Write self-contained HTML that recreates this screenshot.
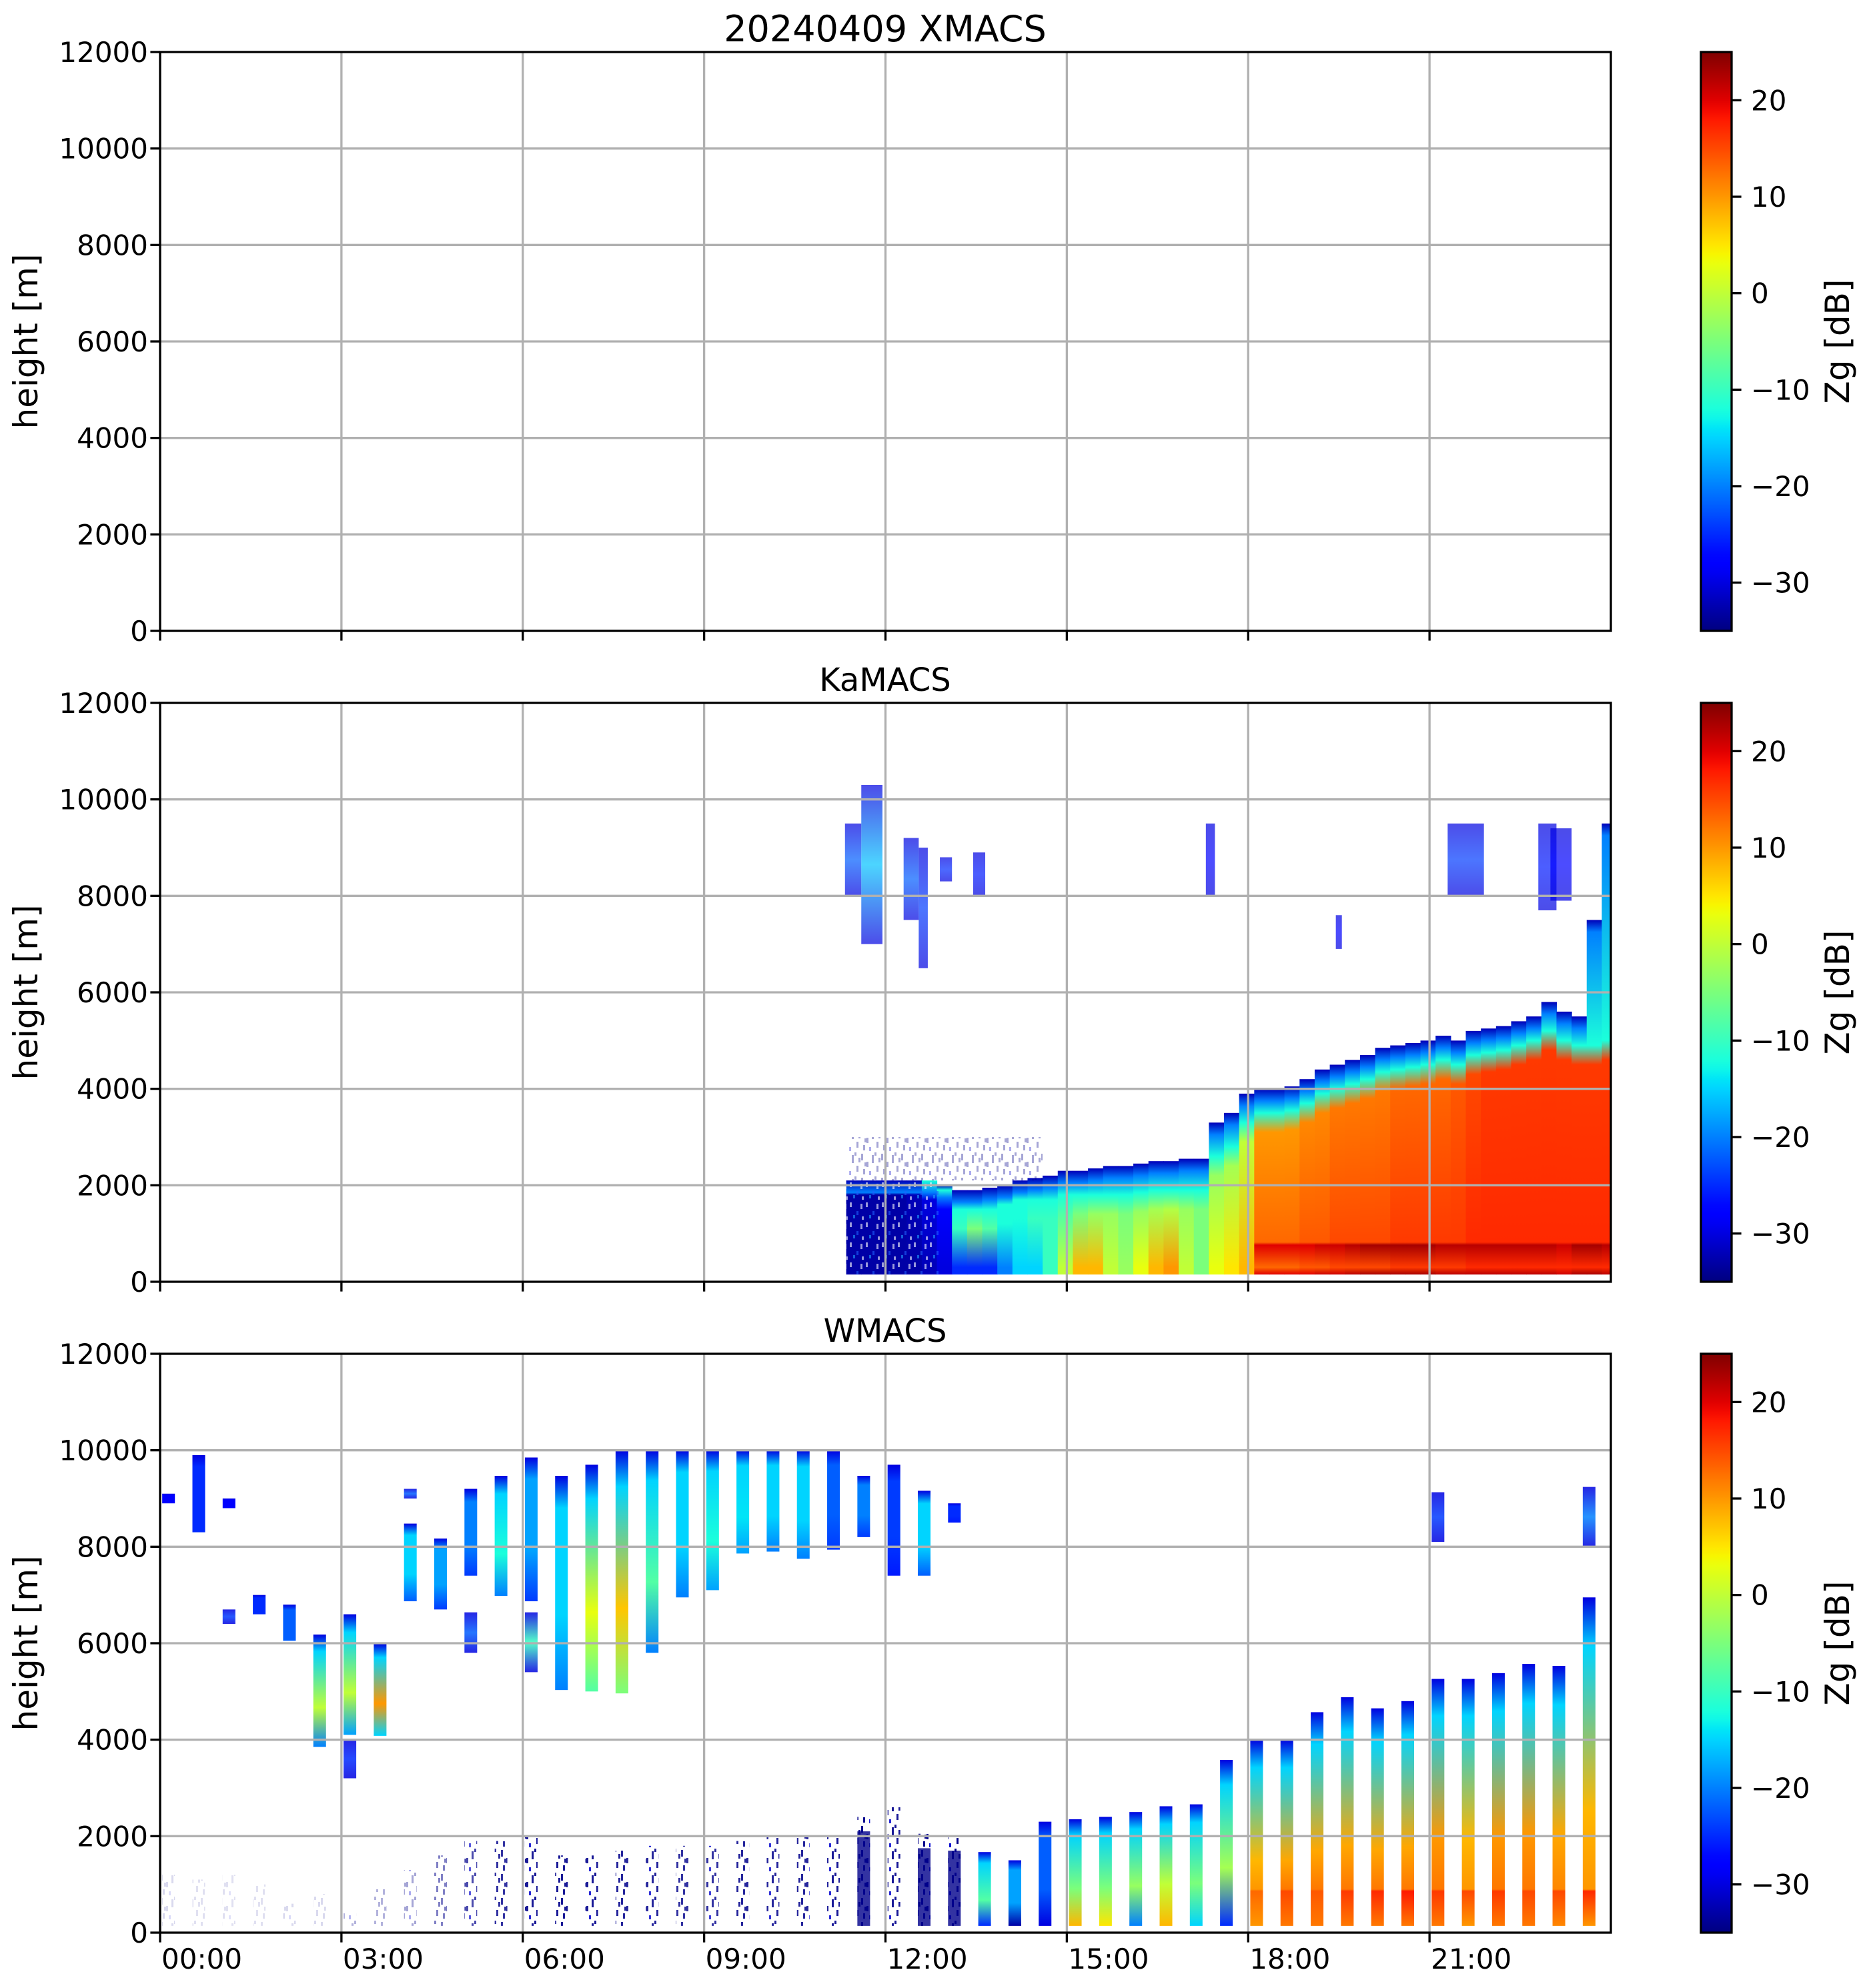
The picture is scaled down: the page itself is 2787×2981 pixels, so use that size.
<!DOCTYPE html>
<html><head><meta charset="utf-8"><title>20240409 radar</title>
<style>html,body{margin:0;padding:0;background:#fff}svg{display:block}text{font-family:"DejaVu Sans","Liberation Sans",sans-serif;fill:#000}</style>
</head><body>
<svg id="fig" width="2787" height="2981" viewBox="0 0 2787 2981" xmlns="http://www.w3.org/2000/svg">
<defs>
<pattern id="speck" width="30" height="36" patternUnits="userSpaceOnUse">
<rect x="1" y="2" width="3" height="10" fill="#00008b"/><rect x="9" y="14" width="3" height="8" fill="#00008b"/><rect x="17" y="4" width="3" height="12" fill="#00008b"/><rect x="24" y="20" width="3" height="9" fill="#00008b"/><rect x="4" y="25" width="3" height="8" fill="#00008b"/><rect x="13" y="28" width="3" height="6" fill="#1010d0"/><rect x="21" y="0" width="3" height="5" fill="#00008b"/><rect x="27" y="8" width="3" height="7" fill="#00008b"/><rect x="6" y="15" width="3" height="6" fill="#00008b"/>
</pattern>
<pattern id="speck2" width="24" height="30" patternUnits="userSpaceOnUse">
<rect x="2" y="3" width="3" height="7" fill="#ffffff"/><rect x="12" y="16" width="3" height="6" fill="#2060ff"/><rect x="18" y="5" width="3" height="8" fill="#ffffff"/><rect x="7" y="22" width="3" height="5" fill="#20a0ff"/><rect x="20" y="24" width="3" height="5" fill="#ffffff"/>
</pattern>
<linearGradient id="cbgrad" x1="0" y1="1" x2="0" y2="0"></linearGradient>
</defs>
<text x="1327" y="62" font-size="54" text-anchor="middle">20240409 XMACS</text>
<text x="1327" y="1036" font-size="48" text-anchor="middle">KaMACS</text>
<text x="1327" y="2012" font-size="48" text-anchor="middle">WMACS</text>
<g id="layers"></g>
</svg>
<script>
// ---- axes data ----
const yTicks = [0,2000,4000,6000,8000,10000,12000];
const xTickHours = [0,3,6,9,12,15,18,21];
const xTickLabels = ["00:00","03:00","06:00","09:00","12:00","15:00","18:00","21:00"];
const cbTicks = [-30,-20,-10,0,10,20];
const cbLabels = ["\u221230","\u221220","\u221210","0","10","20"];
const vmin = -35, vmax = 25;

// ---- KaMACS data (bins of 0.25 h starting 11.35 h) ----
const kaStart = 11.35;
const kaTop  = [2100,2100,2100,2100,2100,2100,2000,1900,1900,1950,2000,2100,2150,2200,2300,2300,2350,2400,2400,2450,2500,2500,2550,2550,3300,3500,3900,4000,4000,4050,4200,4400,4500,4600,4700,4850,4900,4950,5000,5100,5000,5200,5250,5300,5400,5500,5800,5600,5500,7500,9500];
const kaCore = [1800,1800,1800,1800,1800,1700,1500,1100,1100,1100,1200,1300,1300,1300,1400,1400,1400,1400,1400,1450,1500,1500,1500,1500,2200,2400,2900,3100,3100,3150,3300,3500,3600,3700,3800,3950,4000,4050,4100,4200,4100,4300,4350,4400,4500,4600,4800,4600,4500,4500,4600];
const kaMid  = [-33,-33,-33,-33,-32,-30,-28,-10,-5,-8,-12,-12,-10,-10,-8,-5,-3,-3,-5,-3,-2,-1,-3,-5,-3,-2,0,10,10,10,11,11,12,12,12,12,13,13,13,13,14,15,16,16,16,16,16,16,16,16,16];
const kaSfc  = [-33,-33,-33,-33,-33,-32,-30,-25,-25,-25,-20,-15,-15,-10,0,8,8,0,-3,3,8,10,0,-5,3,5,8,13,13,13,14,14,15,15,15,15,16,16,16,16,16,17,17,17,17,17,17,17,17,17,17];
const kaBB   = [null,null,null,null,null,null,null,null,null,null,null,null,null,null,null,null,null,null,null,null,null,null,null,null,null,null,null,20,20,20,20,21,21,22,23,23,23,23,23,22,22,22,22,22,22,22,22,21,23,23,22];
// upper Ka patches: start h, end h, bottom m, top m, dB
const kaPatchT0 = [11.33,11.6,12.3,12.55,12.9,13.45,21.3,22.8,19.45,17.3,23.0];
const kaPatchT1 = [11.6,11.95,12.55,12.7,13.1,13.65,21.9,23.1,19.55,17.45,23.35];
const kaPatchB  = [8000,7000,7500,6500,8300,8000,8000,7700,6900,8000,7900];
const kaPatchT  = [9500,10300,9200,9000,8800,8900,9500,9500,7600,9500,9400];
const kaPatchV  = [-22,-16,-22,-24,-25,-26,-24,-26,-28,-28,-28];

// ---- WMACS data (strips every 0.5 h) ----
const wTimes = [0.14,0.64,1.14,1.64,2.14,2.64,3.14,3.64,4.14,4.64,5.14,5.64,6.14,6.64,7.14,7.64,8.14,8.64,9.14,9.64,10.14,10.64,11.14,11.64,12.14,12.64,13.14,13.64,14.14,14.64,15.14,15.64,16.14,16.64,17.14,17.64,18.14,18.64,19.14,19.64,20.14,20.64,21.14,21.64,22.14,22.64,23.14,23.64];
const wBase = [8900,8300,8800,6600,6050,3850,4100,4080,6870,6700,7400,6980,6870,5030,5000,4960,5800,6950,7100,7860,7900,7750,7940,8200,7400,7400,8500,140,140,140,140,140,140,140,140,140,140,140,140,140,140,140,140,140,140,140,140,140];
const wTop  = [9100,9900,9000,7000,6800,6180,6600,5990,8480,8170,9200,9470,9850,9470,9700,10000,10000,10000,10000,10000,10000,10000,10000,9470,9700,9160,8900,1670,1500,2300,2350,2400,2500,2620,2660,3580,4000,4000,4570,4880,4650,4800,5260,5260,5380,5570,5530,6950];
const wCore = [-28,-25,-28,-25,-22,0,0,10,-15,-18,-20,-12,-18,-15,3,7,-8,-15,-12,-14,-15,-15,-22,-20,-24,-15,-25,-8,-18,-22,-5,-5,-3,0,-5,-2,8,9,9,9,9,9,10,8,10,10,9,8];
const wSfc  = [-28,-25,-28,-25,-22,-20,-18,-15,-22,-24,-24,-20,-24,-20,-8,-5,-20,-20,-18,-18,-20,-20,-24,-24,-26,-22,-26,-25,-33,-30,8,5,-20,8,-15,-25,10,12,12,12,12,12,12,10,12,12,11,10];
const wBB   = [null,null,null,null,null,null,null,null,null,null,null,null,null,null,null,null,null,null,null,null,null,null,null,null,null,null,null,null,null,null,null,null,null,null,null,null,13,15,14,16,17,18,16,15,16,15,15,17];
const wBase2 = [null,null,6400,null,null,null,3200,null,9000,null,5800,null,5400,null,null,null,null,null,null,null,null,null,null,null,null,null,null,null,null,null,null,null,null,null,null,null,null,null,null,null,null,null,8100,null,null,null,null,8000];
const wTop2  = [null,null,6700,null,null,null,4000,null,9200,null,6640,null,6640,null,null,null,null,null,null,null,null,null,null,null,null,null,null,null,null,null,null,null,null,null,null,null,null,null,null,null,null,null,9130,null,null,null,null,9240];
const wCore2 = [null,null,-24,null,null,null,-25,null,-22,null,-22,null,-10,null,null,null,null,null,null,null,null,null,null,null,null,null,null,null,null,null,null,null,null,null,null,null,null,null,null,null,null,null,-24,null,null,null,null,-20];
const wClutTop  = [1200,1100,1200,1000,600,800,400,900,1300,1600,1900,1900,2000,1600,1600,1700,1800,1800,1800,1900,2000,2000,2000,2400,2600,2050,2000,0,0,0,0,0,0,0,0,0,0,0,0,0,0,0,0,0,0,0,0,0];
const wClutDens = [0.15,0.12,0.12,0.12,0.15,0.15,0.3,0.3,0.35,0.5,0.7,0.8,0.9,0.9,0.9,0.85,0.85,0.8,0.8,0.85,0.85,0.85,0.9,0.95,0.9,1,1,0,0,0,0,0,0,0,0,0,0,0,0,0,0,0,0,0,0,0,0,0];

// ---- geometry ----
const NS = "http://www.w3.org/2000/svg";
const X0 = 240, X1 = 2415;
const panels = [{top:78,bot:946,name:"xmacs"},{top:1054,bot:1922,name:"kamacs"},{top:2030,bot:2898,name:"wmacs"}];
const CB0 = 2550, CB1 = 2596;
function xPix(h){ return X0 + h*(X1-X0)/24; }
function yPix(p, m){ return p.bot - m*(p.bot-p.top)/12000; }
function cbY(p, v){ return p.bot - (v-vmin)/(vmax-vmin)*(p.bot-p.top); }
function interp(pts, x){ for(let i=1;i<pts.length;i++){ if(x<=pts[i][0]){ const a=pts[i-1],b=pts[i]; return a[1]+(b[1]-a[1])*(x-a[0])/(b[0]-a[0]); } } return pts[pts.length-1][1]; }
function jet(v){
  let x=(v-vmin)/(vmax-vmin); x=Math.max(0,Math.min(1,x));
  const r=interp([[0,0],[0.35,0],[0.66,1],[0.89,1],[1,0.5]],x);
  const g=interp([[0,0],[0.125,0],[0.375,1],[0.64,1],[0.91,0],[1,0]],x);
  const b=interp([[0,0.5],[0.11,1],[0.34,1],[0.65,0],[1,0]],x);
  return "rgb("+Math.round(r*255)+","+Math.round(g*255)+","+Math.round(b*255)+")";
}
const svg = document.getElementById("fig");
const defs = svg.querySelector("defs");
const layers = document.getElementById("layers");
let gid = 0;
function mk(tag, attrs, parent){ const e=document.createElementNS(NS,tag); for(const k in attrs) e.setAttribute(k,attrs[k]); (parent||layers).appendChild(e); return e; }
function grad(stops, top, base){
  const id="g"+(gid++);
  const lg=mk("linearGradient",{id:id,x1:0,y1:0,x2:0,y2:1},defs);
  stops.sort((a,b)=>b[0]-a[0]);
  let last=0;
  stops.forEach(s=>{ let o=(top-s[0])/(top-base); o=Math.max(last,Math.min(1,o)); last=o; mk("stop",{offset:o.toFixed(4),"stop-color":jet(s[1])},lg); });
  return "url(#"+id+")";
}

const cbg = document.getElementById("cbgrad");
for(let i=0;i<=60;i++){ mk("stop",{offset:(i/60).toFixed(4),"stop-color":jet(vmin+i*(vmax-vmin)/60)},cbg); }

// ---- Ka columns ----
const pk = panels[1];
const kaG = mk("g",{});


for(let i=0;i<kaTop.length;i++){
  const t0=kaStart+0.25*i, t1=Math.min(24,t0+0.25);
  const top=kaTop[i], base=150;
  const st=[[top,-32],[top-250,-20],[kaCore[i]+400,-12],[kaCore[i],kaMid[i]],[300,kaSfc[i]]];
  if(kaBB[i]!==null){ st.push([820,kaSfc[i]]); st.push([760,kaBB[i]]); st.push([base,kaBB[i]]); }
  const x=xPix(t0), w=xPix(t1)-x+0.6, y=yPix(pk,top), h=yPix(pk,base)-y;
  const r=mk("rect",{x:x,y:y,width:w,height:h,fill:grad(st,top,base)},kaG);
  
  
}
{ const r=mk("rect",{x:xPix(11.35),y:yPix(pk,2100),width:xPix(12.9)-xPix(11.35),height:yPix(pk,150)-yPix(pk,2100),fill:"url(#speck2)",opacity:0.6},kaG);
  
   }
{ const r=mk("rect",{x:xPix(11.4),y:yPix(pk,3000),width:xPix(14.6)-xPix(11.4),height:yPix(pk,2100)-yPix(pk,3000),fill:"url(#speck)",opacity:0.35},kaG);
  
   }
for(let i=0;i<kaPatchT0.length;i++){
  const x=xPix(kaPatchT0[i]), w=xPix(kaPatchT1[i])-x, y=yPix(pk,kaPatchT[i]), h=yPix(pk,kaPatchB[i])-y;
  const st=[[kaPatchT[i],-30],[(kaPatchT[i]+kaPatchB[i])/2,kaPatchV[i]],[kaPatchB[i],-30]];
  const r=mk("rect",{x:x,y:y,width:w,height:h,fill:grad(st,kaPatchT[i],kaPatchB[i]),opacity:0.7},kaG);
  
  
}

// ---- W strips ----
const pw = panels[2];
const wG = mk("g",{});


const half = 0.105;
for(let k=0;k<wTimes.length;k++){
  const x=xPix(wTimes[k]-half), w=xPix(wTimes[k]+half)-x;
  if(wClutTop[k]>0){
    const y=yPix(pw,wClutTop[k]), h=yPix(pw,140)-y;
    const r=mk("rect",{x:x,y:y,width:w,height:h,fill:"url(#speck)",opacity:wClutDens[k]},wG);
    
    
    if(wClutDens[k]>=0.95){ const r2=mk("rect",{x:x,y:yPix(pw,wClutTop[k]-300),width:w,height:yPix(pw,140)-yPix(pw,wClutTop[k]-300),fill:"#00008b",opacity:0.8},wG);
      
       }
  }
  const top=wTop[k], base=wBase[k], d=top-base;
  const st=[[top,-30],[top-0.15*d,Math.min(-15,wCore[k])],[base+0.35*d,wCore[k]],[base,wSfc[k]]];
  if(wBB[k]!==null){ st.push([900,wSfc[k]]); st.push([860,wBB[k]]); st.push([base,wBB[k]]); }
  const r=mk("rect",{x:x,y:yPix(pw,top),width:w,height:yPix(pw,base)-yPix(pw,top),fill:grad(st,top,base)},wG);
  
  
  if(wBase2[k]!==null){
    const st2=[[wTop2[k],-30],[(wTop2[k]+wBase2[k])/2,wCore2[k]],[wBase2[k],-30]];
    const r2=mk("rect",{x:x,y:yPix(pw,wTop2[k]),width:w,height:yPix(pw,wBase2[k])-yPix(pw,wTop2[k]),fill:grad(st2,wTop2[k],wBase2[k]),opacity:0.85},wG);
    
    
  }
}

// ---- axes, grid, ticks, colorbars ----
panels.forEach((p,pi)=>{
  const g=mk("g",{});
  
  
  yTicks.forEach(v=>{
    const y=yPix(p,v);
    if(v>0&&v<12000){ const l=mk("line",{x1:X0,x2:X1,y1:y,y2:y,stroke:"#b0b0b0","stroke-width":3.3},g);
      
       }
    mk("line",{x1:X0-14.6,x2:X0,y1:y,y2:y,stroke:"#000","stroke-width":3.3},g);
    const t=mk("text",{x:222,y:y+15,"font-size":42,"text-anchor":"end"},g);
    t.textContent=String(v);
    
    
  });
  xTickHours.forEach((h,i)=>{
    const x=xPix(h);
    if(h>0){ const l=mk("line",{x1:x,x2:x,y1:p.top,y2:p.bot,stroke:"#b0b0b0","stroke-width":3.3},g);
      
       }
    mk("line",{x1:x,x2:x,y1:p.bot,y2:p.bot+14.6,stroke:"#000","stroke-width":3.3},g);
    if(pi===2){ const t=mk("text",{x:x+2,y:2952,"font-size":42},g);
      t.textContent=xTickLabels[i];
      
       }
  });
  const fr=mk("rect",{x:X0,y:p.top,width:X1-X0,height:p.bot-p.top,fill:"none",stroke:"#000","stroke-width":3.3},g);
  
  
  const cy=(p.top+p.bot)/2;
  const yl=mk("text",{x:56,y:cy,"font-size":50,"text-anchor":"middle",transform:"rotate(-90 56 "+cy+")"},g);
  yl.textContent="height [m]";
  
  
  const cb=mk("rect",{x:CB0,y:p.top,width:CB1-CB0,height:p.bot-p.top,fill:"url(#cbgrad)",stroke:"#000","stroke-width":3.3},g);
  
  
  cbTicks.forEach((v,i)=>{
    const y=cbY(p,v);
    mk("line",{x1:CB1,x2:CB1+14.6,y1:y,y2:y,stroke:"#000","stroke-width":3.3},g);
    const t=mk("text",{x:2625,y:y+15,"font-size":42},g);
    t.textContent=cbLabels[i];
    
    
  });
  const cl=mk("text",{x:2772,y:cy,"font-size":50,"text-anchor":"middle",transform:"rotate(-90 2772 "+cy+")"},g);
  cl.textContent="Zg [dB]";
  
  
});
</script>
</body></html>
